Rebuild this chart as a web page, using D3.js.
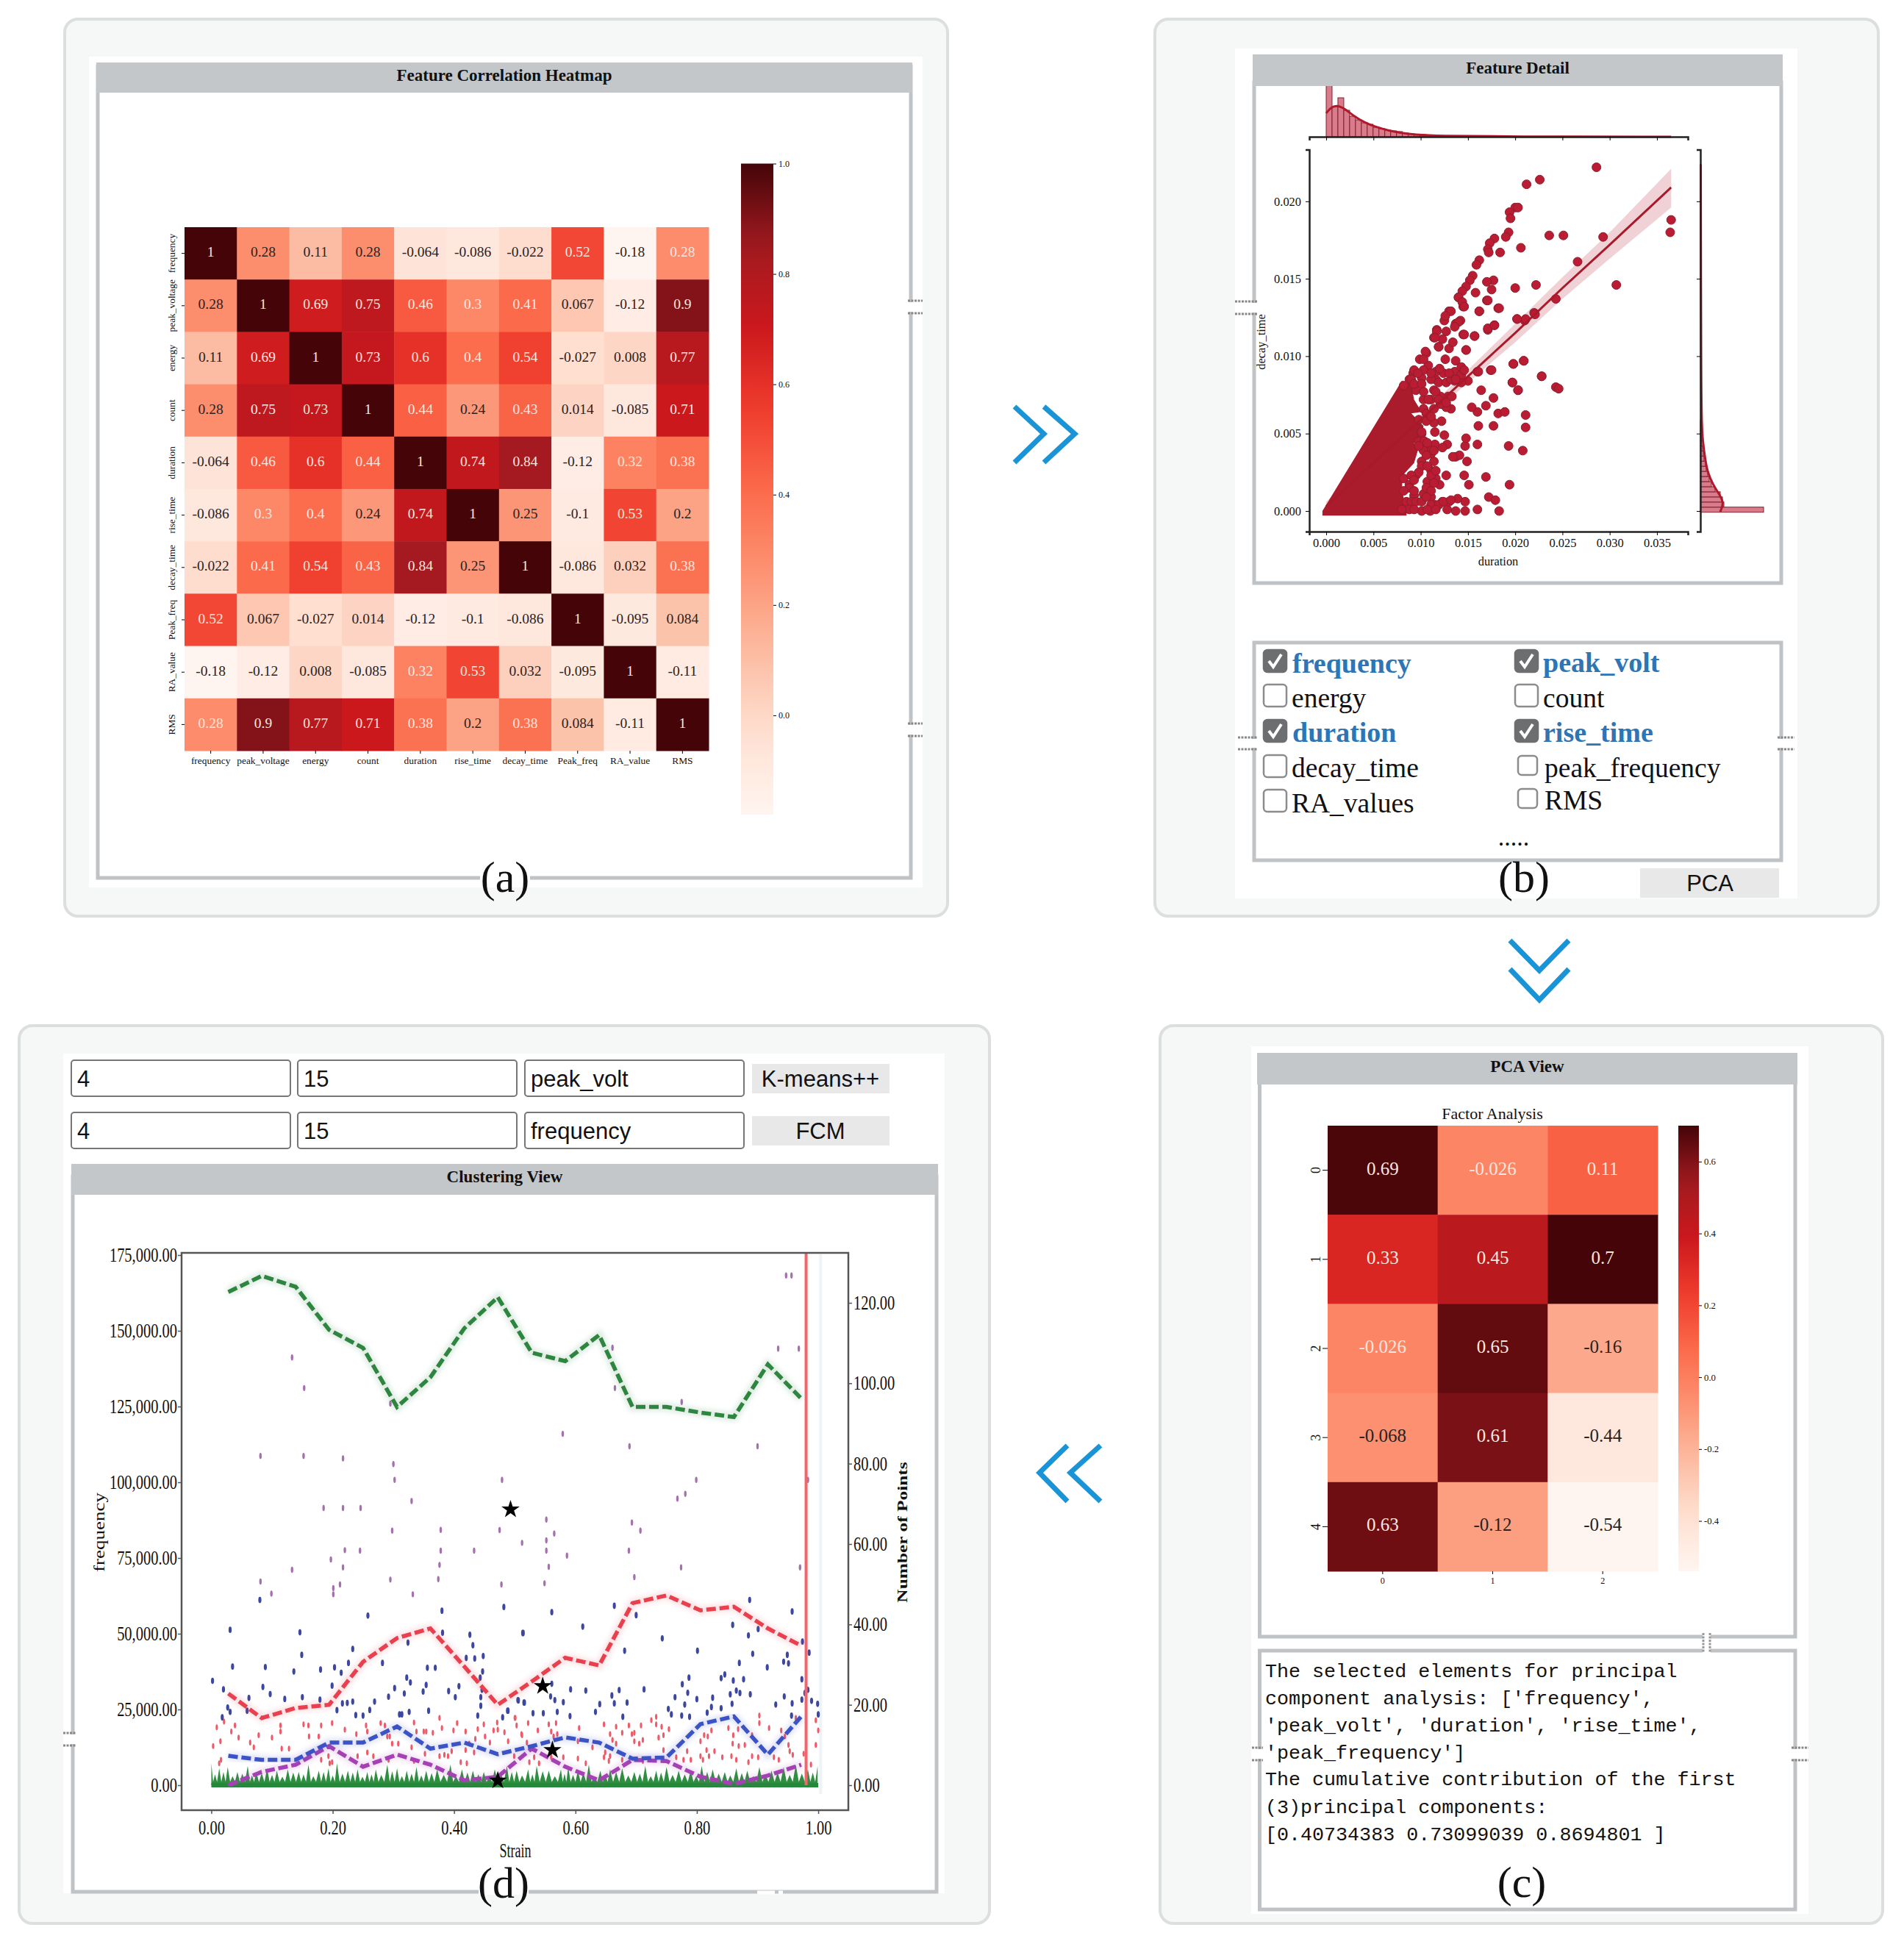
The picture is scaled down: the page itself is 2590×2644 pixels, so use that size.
<!DOCTYPE html>
<html>
<head>
<meta charset="utf-8">
<script src="https://cdn.jsdelivr.net/npm/d3@7"></script>
<style>
  html, body { margin: 0; padding: 0; background: #fff; }
  text { fill: #111; }
  .domain { stroke: #222; }
</style>
</head>
<body>
<div id="chart"></div>
<script>
// ---------------------------------------------------------
// DATA
// ---------------------------------------------------------

// (a) correlation heatmap
var corrFeatures = ["frequency", "peak_voltage", "energy", "count", "duration", "rise_time", "decay_time", "Peak_freq", "RA_value", "RMS"];
var corrValues = [
  [1, 0.28, 0.11, 0.28, -0.064, -0.086, -0.022, 0.52, -0.18, 0.284],
  [0.28, 1, 0.69, 0.75, 0.46, 0.3, 0.41, 0.067, -0.12, 0.9],
  [0.11, 0.69, 1, 0.73, 0.6, 0.4, 0.54, -0.027, 0.008, 0.77],
  [0.28, 0.75, 0.73, 1, 0.44, 0.24, 0.43, 0.014, -0.085, 0.71],
  [-0.064, 0.46, 0.6, 0.44, 1, 0.74, 0.84, -0.12, 0.32, 0.38],
  [-0.086, 0.3, 0.4, 0.24, 0.74, 1, 0.25, -0.1, 0.53, 0.2],
  [-0.022, 0.41, 0.54, 0.43, 0.84, 0.25, 1, -0.086, 0.032, 0.38],
  [0.52, 0.067, -0.027, 0.014, -0.12, -0.1, -0.086, 1, -0.095, 0.084],
  [-0.18, -0.12, 0.008, -0.085, 0.32, 0.53, 0.032, -0.095, 1, -0.11],
  [0.284, 0.9, 0.77, 0.71, 0.38, 0.2, 0.38, 0.084, -0.11, 1]
];
var corrTicks = [0, 0.2, 0.4, 0.6, 0.8, 1];

// (b) scatter of duration against decay_time
var scatterXTicks = [0, 0.005, 0.01, 0.015, 0.02, 0.025, 0.03, 0.035];
var scatterYTicks = [0, 0.005, 0.01, 0.015, 0.02];
var scatterCore = [[-0.0004, 0], [-0.0004, -0.0003], [0.0085, -0.0003], [0.0085, 0.0002], [0.008, 0.0013], [0.0081, 0.0023], [0.0093, 0.0031], [0.0097, 0.0039], [0.0093, 0.0044], [0.0101, 0.0048], [0.0103, 0.0055], [0.009, 0.0063], [0.0101, 0.0064], [0.0093, 0.0072], [0.009, 0.0082], [0.008, 0.0084]];
var scatterPoints = [
  [0.0183, 0], [0.016, 0.0001], [0.0147, 0], [0.0137, 0], [0.0128, 0.0001], [0.011, 0], [0.0101, 0], [0.0172, 0.0009], [0.0179, 0.0007], [0.0147, 0.0006],
  [0.0139, 0.0008], [0.013, 0.0006], [0.0123, 0.0006], [0.0115, 0.0004], [0.0111, 0.0009], [0.0103, 0.0011], [0.0093, 0.001], [0.0194, 0.0017], [0.0151, 0.0017], [0.0146, 0.0023],
  [0.0127, 0.0023], [0.0169, 0.0022], [0.012, 0.0017], [0.0088, 0.0017], [0.0116, 0.0021], [0.0107, 0.0019], [0.0095, 0.0023], [0.0082, 0.0021], [0.0111, 0.0026], [0.0101, 0.0032],
  [0.0114, 0.0032], [0.0111, 0.0037], [0.0149, 0.0032], [0.0137, 0.0035], [0.0141, 0.0036], [0.0134, 0.0035], [0.0193, 0.0042], [0.0208, 0.0039], [0.016, 0.0043], [0.0147, 0.0042],
  [0.0148, 0.0047], [0.0128, 0.0043], [0.0123, 0.0041], [0.0115, 0.0043], [0.0125, 0.0049], [0.0115, 0.0051], [0.0122, 0.0058], [0.0114, 0.0057], [0.0161, 0.0055], [0.0177, 0.0055],
  [0.0211, 0.0054], [0.0211, 0.0062], [0.016, 0.0064], [0.0154, 0.0067], [0.0169, 0.0068], [0.0182, 0.0063], [0.0189, 0.0064], [0.0177, 0.0073], [0.0164, 0.0078], [0.0203, 0.0078],
  [0.0197, 0.0083], [0.0228, 0.0087], [0.0198, 0.0095], [0.0209, 0.0097], [0.0174, 0.0091], [0.016, 0.009], [0.015, 0.0084], [0.0143, 0.0083], [0.0136, 0.0084], [0.0132, 0.0066],
  [0.0127, 0.0067], [0.0129, 0.0074], [0.0121, 0.0074], [0.0114, 0.0078], [0.0116, 0.0085], [0.0124, 0.0089], [0.0136, 0.009], [0.0143, 0.0093], [0.0137, 0.0097], [0.0126, 0.0098],
  [0.0116, 0.009], [0.0106, 0.0102], [0.0099, 0.0098], [0.0108, 0.0094], [0.0092, 0.0089], [0.0101, 0.0086], [0.0119, 0.0106], [0.013, 0.0105], [0.0148, 0.0104], [0.0134, 0.0109],
  [0.0145, 0.0114], [0.0157, 0.0113], [0.0114, 0.0112], [0.0117, 0.0117], [0.0123, 0.0111], [0.0127, 0.0116], [0.0137, 0.0121], [0.0142, 0.0123], [0.0125, 0.0123], [0.013, 0.0129],
  [0.0145, 0.0132], [0.014, 0.0138], [0.0162, 0.0129], [0.0182, 0.0131], [0.017, 0.0136], [0.0171, 0.0117], [0.0178, 0.012], [0.0202, 0.0124], [0.021, 0.0123], [0.022, 0.0128],
  [0.0103, 0.0072], [0.0111, 0.0072], [0.0103, 0.0066], [0.0098, 0.0045], [0.0104, 0.0041], [0.0101, 0.005], [0.0088, 0.0085], [0.0095, 0.0078],
  [0.0286, 0.0222], [0.0226, 0.0214], [0.0212, 0.0211], [0.0365, 0.0188], [0.0364, 0.018], [0.02, 0.0196], [0.0203, 0.0196], [0.0194, 0.0193], [0.0195, 0.0189], [0.0193, 0.018],
  [0.019, 0.0177], [0.0236, 0.0178], [0.0251, 0.0178], [0.0293, 0.0177], [0.0206, 0.017], [0.0184, 0.0167], [0.0178, 0.0176], [0.0173, 0.0173], [0.0171, 0.0169], [0.0172, 0.0167],
  [0.0266, 0.0161], [0.0162, 0.0162], [0.0159, 0.0159], [0.0307, 0.0146], [0.0222, 0.0146], [0.02, 0.0144], [0.0177, 0.0149], [0.017, 0.0148], [0.0175, 0.0143], [0.0155, 0.0152],
  [0.0152, 0.0149], [0.0148, 0.0145], [0.0158, 0.0141], [0.0144, 0.0142], [0.014, 0.0138], [0.0144, 0.0135], [0.0146, 0.0132], [0.0162, 0.0129], [0.0171, 0.0136], [0.0183, 0.0131],
  [0.0243, 0.0137], [0.0202, 0.0124], [0.0211, 0.0124], [0.0221, 0.0127], [0.0132, 0.0129], [0.0126, 0.0126], [0.014, 0.0122], [0.0136, 0.0119], [0.0157, 0.0113], [0.0171, 0.0118],
  [0.0178, 0.012], [0.0117, 0.0116], [0.0115, 0.0112], [0.0146, 0.0114], [0.0148, 0.0104], [0.0119, 0.0106], [0.0105, 0.0103], [0.0198, 0.0095], [0.0209, 0.0097], [0.0228, 0.0087],
  [0.0243, 0.008], [0.0246, 0.0079], [0.0197, 0.0083], [0.0203, 0.0078], [0.0175, 0.0091], [0.0161, 0.009], [0.0093, 0.0091], [0.0103, 0.0098], [0.009, 0.0085], [0.0082, 0.0081],
  [0.0093, 0.0082], [0.0101, 0.0082], [0.0103, 0.0077], [0.0108, 0.0072], [0.0116, 0.0077], [0.0121, 0.0069], [0.0114, 0.0066], [0.0106, 0.0063], [0.0098, 0.0059], [0.0106, 0.0058],
  [0.0111, 0.0061], [0.0119, 0.0072], [0.0127, 0.007], [0.0133, 0.0074], [0.0111, 0.0085], [0.0119, 0.0083], [0.0127, 0.0083], [0.0132, 0.0085], [0.0103, 0.0091], [0.0097, 0.0089],
  [0.0111, 0.0089], [0.012, 0.0092], [0.013, 0.0089], [0.0143, 0.0088], [0.0146, 0.0091], [0.0137, 0.0085], [0.0101, 0.0051], [0.0104, 0.0045], [0.0111, 0.0039], [0.0103, 0.0039],
  [0.0098, 0.0042], [0.0107, 0.0044], [0.0114, 0.0039], [0.0106, 0.0036], [0.0101, 0.0029], [0.0107, 0.0029], [0.0111, 0.0023], [0.0116, 0.0026], [0.0114, 0.0018], [0.0106, 0.0015],
  [0.0111, 0.0013], [0.0098, 0.0025], [0.009, 0.0023], [0.0093, 0.002], [0.0088, 0.0015], [0.0082, 0.0013], [0.0093, 0.0013], [0.0085, 0.0006], [0.009, 0.0006], [0.0095, 0.0006],
  [0.0101, 0.0006], [0.0106, 0.0009], [0.0111, 0.0004], [0.0119, 0.0004], [0.0124, 0.0006], [0.0132, 0.0007], [0.0088, 0.0001], [0.008, 0.0001], [0.0093, 0.0001], [0.0107, 0.0001], [0.0116, 0.0001]
];
var fitX = [0, 0.01, 0.015, 0.02, 0.025, 0.03, 0.0365];
var fitY = [0.0003, 0.0059, 0.0087, 0.0115, 0.0144, 0.0172, 0.0209];
var fitUpper = [0.0006, 0.0062, 0.0091, 0.0121, 0.0151, 0.018, 0.0221];
var fitLower = [0.0001, 0.0056, 0.0083, 0.0109, 0.0137, 0.0163, 0.0196];

var durationHist = [76, 41, 53, 36, 28, 23, 19, 17, 13, 11, 9, 8, 7, 5, 4, 3, 3, 2, 1, 1];
var durationKdeX = [0, 0.0005, 0.0011, 0.0019, 0.0028, 0.0041, 0.0051, 0.0067, 0.008, 0.0093, 0.0119, 0.0191, 0.0365];
var durationKde = [32, 40, 43, 39, 29, 19, 14, 8, 5, 3, 1, 0.3, 0];
var decayHist = [86, 32, 30, 27, 20, 15, 12, 10, 8, 7, 5, 4, 3, 2, 2, 1, 1, 1];
var decayKdeY = [-0.00005, 0.0005, 0.001, 0.0017, 0.0025, 0.0032, 0.0046, 0.0056, 0.008, 0.0224];
var decayKde = [27, 32, 27, 17, 10, 7, 3, 2, 1, 0.5];

// (b) feature picker
var leftFeatures = ["frequency", "energy", "duration", "decay_time", "RA_values"];
var leftChecked = [true, false, true, false, false];
var leftBaselines = [915, 962, 1009, 1057, 1105];
var leftBoxTops = [884, 931, 979, 1027, 1074];
var rightFeatures = ["peak_volt", "count", "rise_time", "peak_frequency", "RMS"];
var rightChecked = [true, false, true, false, false];
var rightBaselines = [914, 962, 1009, 1057, 1101];
var rightBoxTops = [884, 931, 979, 1028, 1073];

// (c) factor analysis heatmap and the text under it
var factorRows = ["0", "1", "2", "3", "4"];
var factorCols = ["0", "1", "2"];
var factorValues = [
  [0.69, -0.026, 0.11],
  [0.33, 0.45, 0.7],
  [-0.026, 0.65, -0.16],
  [-0.068, 0.61, -0.44],
  [0.63, -0.12, -0.54]
];
var factorTicks = [-0.4, -0.2, 0, 0.2, 0.4, 0.6];
var pcaLines = [
  "The selected elements for principal",
  "component analysis: ['frequency',",
  "'peak_volt', 'duration', 'rise_time',",
  "'peak_frequency']",
  "The cumulative contribution of the first",
  "(3)principal components:",
  "[0.40734383 0.73099039 0.8694801 ]"
];
var pcaBaselines = [2281, 2318, 2355, 2392, 2428, 2466, 2503];

// (d) clustering view
var strainTicks = [0, 0.2, 0.4, 0.6, 0.8, 1];
var freqTicks = [0, 25000, 50000, 75000, 100000, 125000, 150000, 175000];
var countTicks = [0, 20, 40, 60, 80, 100, 120];
var binCentres = [0.028, 0.083, 0.139, 0.194, 0.25, 0.306, 0.361, 0.417, 0.472, 0.528, 0.583, 0.639, 0.694, 0.75, 0.806, 0.861, 0.917, 0.972];
var greenCounts = [122.7, 126.7, 124, 113.3, 108.8, 94.1, 101.5, 113.7, 121.4, 107.6, 105.5, 112, 94.1, 94.1, 92.7, 91.6, 104.7, 96.2];
var redCounts = [22.8, 16.7, 19.2, 20, 30.7, 36.6, 39, 29.5, 20, 25.8, 31.7, 29.8, 45.3, 47.2, 43.5, 44.4, 39, 34.7];
var blueCounts = [7.3, 6.3, 6.3, 10.6, 10.6, 14.6, 9.1, 10.6, 7.7, 9.7, 11.9, 10.6, 6.6, 6.9, 15.2, 17.1, 7.6, 17.1];
var purpleCounts = [0, 3.3, 5.1, 9.7, 4.6, 7.6, 5.1, 1.2, 2.1, 9.1, 4.6, 1.2, 6.3, 6, 2.1, 0.3, 2.4, 5.1];

var blueDots = [
  [0.002, 34460], [0.031, 51290], [0.02, 31630], [0.035, 39160], [0.08, 61160], [0.089, 38990], [0.085, 32440], [0.097, 30090], [0.062, 28800], [0.121, 28480],
  [0.146, 50480], [0.149, 43040], [0.136, 37540], [0.15, 29040], [0.179, 28230], [0.18, 38180], [0.203, 38910], [0.214, 37130], [0.226, 40370], [0.233, 44980],
  [0.199, 32840], [0.258, 55980], [0.282, 40370], [0.324, 47080], [0.356, 38750], [0.369, 38750], [0.322, 35510], [0.328, 33900], [0.302, 32040], [0.318, 30260],
  [0.292, 29200], [0.269, 27590], [0.233, 27590], [0.224, 27180], [0.216, 27020], [0.207, 24760], [0.261, 24840], [0.238, 23140], [0.25, 22980], [0.31, 23380],
  [0.314, 23380], [0.326, 24190], [0.358, 24590], [0.354, 33090], [0.349, 30900], [0.391, 31070], [0.408, 32680], [0.402, 29040], [0.38, 57600], [0.381, 50320],
  [0.426, 49670], [0.431, 46190], [0.42, 41990], [0.434, 41830], [0.448, 42630], [0.447, 37540], [0.443, 35510], [0.446, 31470], [0.444, 29040], [0.444, 26210],
  [0.439, 22980], [0.482, 58820], [0.513, 50240], [0.505, 28070], [0.515, 27260], [0.488, 24590], [0.48, 22410], [0.027, 25650], [0.031, 24190], [0.018, 22410], [0.059, 24590],
  [0.664, 59220], [0.561, 57120], [0.7, 56140], [0.612, 52340], [0.514, 50240], [0.681, 44410], [0.743, 48460], [0.801, 44410], [0.887, 61160], [0.957, 57360],
  [0.859, 52910], [0.901, 51530], [0.885, 49430], [0.974, 47410], [0.985, 43770], [0.892, 43360], [0.87, 40370], [0.916, 38910], [0.943, 40770], [0.951, 40210],
  [0.949, 43040], [0.973, 34950], [0.787, 35510], [0.776, 33330], [0.846, 36570], [0.84, 35350], [0.86, 34540], [0.877, 34950], [0.561, 33490], [0.592, 31630],
  [0.617, 31230], [0.672, 31390], [0.713, 31630], [0.785, 30500], [0.764, 29040], [0.8, 28400], [0.826, 28880], [0.855, 30010], [0.865, 31230], [0.871, 30420],
  [0.888, 30010], [0.944, 29290], [0.983, 31470], [0.978, 30420], [0.973, 28230], [0.989, 27830], [0.999, 26860], [0.66, 29610], [0.64, 26780], [0.664, 27020],
  [0.685, 27260], [0.506, 28000], [0.516, 27260], [0.559, 29290], [0.566, 28070], [0.58, 27420], [0.489, 24590], [0.53, 23780], [0.547, 23780], [0.57, 24190],
  [0.591, 22810], [0.633, 24190], [0.678, 22570], [0.753, 25160], [0.758, 23380], [0.775, 22980], [0.788, 22570], [0.78, 26620], [0.824, 25810], [0.817, 23950],
  [0.84, 25400], [0.858, 26860], [0.93, 26620], [0.957, 27020], [1, 23380], [0.956, 22980]
];
var purpleDots = [
  [0.298, 84060], [0.378, 84300], [0.475, 84220], [0.512, 80010], [0.22, 77590], [0.245, 77420], [0.378, 77420], [0.433, 77420], [0.197, 74510], [0.217, 71920],
  [0.133, 71110], [0.376, 72730], [0.374, 68040], [0.295, 67880], [0.081, 67230], [0.212, 66260], [0.478, 66260], [0.099, 63260], [0.201, 65040], [0.201, 63020],
  [0.332, 63020], [0.552, 87700], [0.693, 86720], [0.707, 84060], [0.565, 83080], [0.552, 80820], [0.552, 77420], [0.688, 77420], [0.586, 75800], [0.556, 72080],
  [0.774, 71920], [0.97, 71920], [0.697, 68680], [0.549, 66660], [0.947, 168260], [0.956, 168260], [0.133, 141200], [0.153, 131100], [0.661, 144400], [0.934, 144100],
  [0.968, 144100], [0.665, 131100], [0.775, 126500], [0.295, 126000], [0.579, 116000], [0.689, 111900], [0.9, 111900], [0.081, 108700], [0.152, 108700], [0.217, 107900],
  [0.3, 106000], [0.302, 100800], [0.479, 100800], [0.799, 100800], [0.781, 96200], [0.768, 94600], [0.983, 100800], [0.33, 93800], [0.185, 91500], [0.217, 91500], [0.246, 91500]
];
var redDots = [
  [0.009, 19100], [0.015, 14500], [0.003, 12900], [0.021, 21000], [0.033, 17700], [0.039, 19700], [0.045, 15700], [0.016, 8400], [0.013, 7200], [0.064, 14100],
  [0.07, 12500], [0.078, 16500], [0.1, 15700], [0.114, 19700], [0.114, 17700], [0.116, 12100], [0.128, 12100], [0.152, 20100], [0.16, 19700], [0.161, 16100],
  [0.177, 16100], [0.181, 19700], [0.199, 20500], [0.22, 18300], [0.239, 16900], [0.255, 19700], [0.257, 17700], [0.199, 7600], [0.181, 8400], [0.193, 9600],
  [0.195, 7200], [0.241, 9600], [0.257, 10800], [0.267, 9600], [0.279, 20500], [0.29, 16100], [0.286, 19700], [0.308, 13700], [0.294, 16100], [0.334, 20700],
  [0.338, 17700], [0.354, 17700], [0.365, 17300], [0.376, 22200], [0.38, 18900], [0.399, 18100], [0.405, 20500], [0.419, 17700], [0.435, 15300], [0.439, 18500],
  [0.449, 20100], [0.465, 18100], [0.472, 18300], [0.471, 20700], [0.483, 17500], [0.5, 22200], [0.503, 19700], [0.511, 16900], [0.522, 20500], [0.451, 16100],
  [0.459, 14100], [0.33, 12500], [0.352, 10400], [0.376, 9600], [0.39, 9600], [0.411, 7600], [0.421, 7200], [0.384, 10000], [0.292, 8400], [0.334, 8000],
  [0.396, 11200], [0.433, 10800], [0.489, 14500], [0.52, 14100], [0.425, 13700], [0.35, 17700], [0.298, 13700], [0.419, 11600],
  [0.538, 18100], [0.556, 20100], [0.568, 20500], [0.512, 16500], [0.56, 17700], [0.57, 16900], [0.564, 16100], [0.606, 18900], [0.647, 20100], [0.667, 19300],
  [0.688, 19700], [0.708, 19700], [0.725, 21500], [0.733, 22600], [0.733, 20100], [0.742, 19300], [0.754, 18500], [0.657, 16900], [0.661, 14900], [0.677, 17300],
  [0.667, 13700], [0.693, 16900], [0.697, 14500], [0.705, 13700], [0.711, 14900], [0.697, 17300], [0.737, 15700], [0.745, 16500], [0.604, 14500], [0.628, 12500],
  [0.649, 10800], [0.657, 9600], [0.647, 9200], [0.655, 8000], [0.677, 8400], [0.711, 8000], [0.745, 11600], [0.766, 9200], [0.784, 11200], [0.778, 8400],
  [0.79, 8400], [0.806, 14500], [0.812, 16500], [0.824, 18100], [0.818, 16100], [0.806, 9600], [0.81, 8400], [0.82, 9600], [0.816, 11600], [0.829, 11200],
  [0.842, 9200], [0.852, 18900], [0.86, 16500], [0.868, 18500], [0.859, 13700], [0.869, 12900], [0.879, 13300], [0.857, 9600], [0.865, 8400], [0.891, 9600],
  [0.885, 7600], [0.901, 9200], [0.919, 18900], [0.939, 18100], [0.945, 16100], [0.951, 13300], [0.953, 11200], [0.958, 10000], [0.935, 8400], [0.927, 9200],
  [0.963, 22200], [0.976, 10400], [0.996, 13300], [1, 18100], [0.996, 21400], [0.988, 6800], [0.903, 22970], [0.903, 20500], [0.891, 16500], [0.501, 22200],
  [0.532, 9200], [0.524, 7600], [0.54, 7200], [0.499, 9600], [0.56, 9200], [0.58, 9200], [0.604, 8800], [0.617, 7200]
];
var greenPeakStrain = [0, 0.013, 0.027, 0.043, 0.06, 0.074, 0.092, 0.108, 0.126, 0.144, 0.16, 0.177, 0.193, 0.207, 0.225, 0.241, 0.257, 0.271, 0.29, 0.306, 0.322, 0.338, 0.354, 0.372, 0.394, 0.413, 0.431, 0.449, 0.467, 0.487, 0.503, 0.522, 0.536, 0.556, 0.576, 0.588, 0.604, 0.622, 0.641, 0.657, 0.677, 0.697, 0.715, 0.733, 0.75, 0.77, 0.79, 0.808, 0.826, 0.846, 0.865, 0.883, 0.903, 0.923, 0.943, 0.963, 0.983, 0.999];
var greenPeakFreq = [7200, 5600, 6000, 4400, 6400, 4400, 5600, 4800, 5200, 4400, 6800, 4800, 5600, 7200, 4800, 5200, 4400, 5200, 6800, 5600, 4800, 6000, 4800, 5200, 6800, 5200, 4800, 4400, 5200, 6400, 4800, 5200, 6400, 4800, 5200, 6000, 4800, 6800, 4800, 5200, 5600, 4400, 6400, 4800, 6000, 4800, 4800, 6400, 5200, 4400, 5600, 4800, 6000, 4800, 6000, 6800, 5200, 6400];
var greenMidStrain = [0.006, 0.02, 0.035, 0.051, 0.067, 0.083, 0.1, 0.117, 0.135, 0.152, 0.168, 0.185, 0.2, 0.216, 0.233, 0.249, 0.264, 0.28, 0.298, 0.314, 0.33, 0.346, 0.363, 0.383, 0.403, 0.422, 0.44, 0.458, 0.477, 0.495, 0.512, 0.529, 0.546, 0.566, 0.582, 0.596, 0.613, 0.631, 0.649, 0.667, 0.687, 0.706, 0.724, 0.741, 0.76, 0.78, 0.799, 0.817, 0.836, 0.855, 0.874, 0.893, 0.913, 0.933, 0.953, 0.973, 0.991];
var greenMidFreq = [3600, 4400, 3000, 3800, 3200, 4000, 3400, 2800, 4200, 3600, 3000, 4400, 3200, 3800, 4200, 2800, 3600, 3400, 4600, 3000, 3800, 3200, 4000, 3400, 3000, 4200, 3600, 2800, 3800, 4400, 3200, 3600, 4600, 3000, 3800, 3400, 4200, 3000, 3600, 4400, 3200, 3800, 3000, 4200, 3400, 3600, 3000, 4400, 3800, 3200, 4000, 3000, 3600, 4200, 3400, 3800, 4200];
var centroidStrain = [0.493, 0.546, 0.562, 0.472];
var centroidFreq = [91000, 32700, 11600, 1500];
var cutoffStrain = 0.98;

var inputRows = [["4", "15", "peak_volt"], ["4", "15", "frequency"]];
var methodNames = ["K-means++", "FCM"];

// ---------------------------------------------------------
// SET UP THE PAGE
// ---------------------------------------------------------

var svgWidth = 2590;
var svgHeight = 2644;

var serif = "Liberation Serif";
var sans = "Liberation Sans";

var svg = d3.select("#chart")
  .append("svg")
  .attr("width", svgWidth)
  .attr("height", svgHeight)
  .attr("font-family", serif)
  .style("display", "block");

var defs = svg.append("defs");
defs.append("filter").attr("id", "soft")
  .append("feGaussianBlur").attr("stdDeviation", 0.7);
defs.append("filter").attr("id", "glow")
  .attr("x", "-5%").attr("y", "-5%").attr("width", "110%").attr("height", "110%")
  .append("feGaussianBlur").attr("stdDeviation", 3);

var frameColor = "#bfc3c6";
var barColor = "#c4c7c9";

// same ramp as the colormap in the picture, a bit darker at the top
var redRamp = d3.piecewise(d3.interpolateRgb, ["#fff5f0", "#fee0d2", "#fcbba1", "#fc9272", "#fb6a4a", "#ef3b2c", "#cb181d", "#a01a20", "#450508"]);

var minusFix = function(s) { return s.replace("\u2212", "-"); };
var cellFormat = d3.format(".2~g");

function panel(x0, y0, x1, y1, wx0, wy0, wx1, wy1) {
  svg.append("rect")
    .attr("x", x0).attr("y", y0)
    .attr("width", x1 - x0).attr("height", y1 - y0)
    .attr("rx", 18)
    .attr("fill", "#f6f7f7")
    .attr("stroke", "#dddfdf")
    .attr("stroke-width", 4);
  svg.append("rect")
    .attr("x", wx0).attr("y", wy0)
    .attr("width", wx1 - wx0).attr("height", wy1 - wy0)
    .attr("fill", "#fff");
}

function frame(x0, y0, x1, y1) {
  svg.append("rect")
    .attr("x", x0).attr("y", y0)
    .attr("width", x1 - x0).attr("height", y1 - y0)
    .attr("fill", "none")
    .attr("stroke", frameColor)
    .attr("stroke-width", 5);
}

function titleBar(x0, y0, x1, y1, label) {
  svg.append("rect")
    .attr("x", x0).attr("y", y0)
    .attr("width", x1 - x0).attr("height", y1 - y0)
    .attr("fill", barColor);
  svg.append("text")
    .attr("x", (x0 + x1) / 2).attr("y", (y0 + y1) / 2 + 4)
    .attr("text-anchor", "middle")
    .attr("font-size", 23)
    .attr("font-weight", "bold")
    .text(label);
}

function handle(x0, x1, y0, y1) {
  svg.append("rect")
    .attr("x", x0).attr("y", y0 + 2)
    .attr("width", x1 - x0).attr("height", y1 - y0 - 4)
    .attr("fill", "#fff");
  [y0, y1].forEach(function(y) {
    svg.append("line")
      .attr("x1", x0).attr("x2", x1)
      .attr("y1", y).attr("y2", y)
      .attr("stroke", "#888")
      .attr("stroke-width", 3)
      .attr("stroke-dasharray", "3 1.5");
  });
}

function panelLabel(x, y, label, gapY) {
  if (gapY) {
    svg.append("rect")
      .attr("x", x - 34).attr("y", gapY - 4)
      .attr("width", 68).attr("height", 8)
      .attr("fill", "#fff");
  }
  svg.append("text")
    .attr("x", x).attr("y", y)
    .attr("text-anchor", "middle")
    .attr("font-size", 60)
    .text(label);
}

function chevrons(points) {
  var line = d3.line();
  points.forEach(function(p) {
    svg.append("path")
      .attr("d", line(p))
      .attr("fill", "none")
      .attr("stroke", "#1b94d7")
      .attr("stroke-width", 7);
  });
}

// draws one annotated heatmap with its colorbar
function heatmap(opts) {
  var x = d3.scaleBand().domain(opts.cols).range(opts.xRange);
  var y = d3.scaleBand().domain(opts.rows).range(opts.yRange);
  var t = d3.scaleLinear().domain(opts.domain).range([0, 1]);

  var g = svg.append("g");
  opts.values.forEach(function(row, i) {
    row.forEach(function(v, j) {
      g.append("rect")
        .attr("x", x(opts.cols[j]))
        .attr("y", y(opts.rows[i]))
        .attr("width", x.bandwidth() + 0.5)
        .attr("height", y.bandwidth() + 0.5)
        .attr("fill", redRamp(t(v)));
      g.append("text")
        .attr("x", x(opts.cols[j]) + x.bandwidth() / 2)
        .attr("y", y(opts.rows[i]) + y.bandwidth() / 2)
        .attr("dy", "0.24em")
        .attr("text-anchor", "middle")
        .attr("font-size", opts.cellFont)
        .style("fill", t(v) > 0.39 ? "#fbe6df" : "#2b2220")
        .text(minusFix(cellFormat(v)));
    });
  });

  var bottomAxis = d3.axisBottom(x).tickSize(4).tickPadding(opts.xPad);
  var xAxisG = svg.append("g")
    .attr("transform", "translate(0," + opts.yRange[1] + ")")
    .call(bottomAxis);
  xAxisG.select(".domain").remove();
  xAxisG.selectAll("text").attr("font-size", opts.xFont).attr("font-family", serif);

  var leftAxis = d3.axisLeft(y).tickSize(opts.yTick).tickPadding(opts.yPad);
  var yAxisG = svg.append("g")
    .attr("transform", "translate(" + opts.xRange[0] + ",0)")
    .call(leftAxis);
  yAxisG.select(".domain").remove();
  yAxisG.selectAll("text")
    .attr("font-size", opts.yFont)
    .attr("font-family", serif)
    .attr("text-anchor", "middle")
    .attr("dy", 0)
    .attr("transform", function() {
      return "translate(" + (-opts.yTick - opts.yPad - opts.yFont * 0.3) + ",0) rotate(-90)";
    })
    .attr("x", 0).attr("y", opts.yFont * 0.3);

  // colorbar
  var gradId = opts.id;
  var grad = defs.append("linearGradient").attr("id", gradId)
    .attr("x1", 0).attr("x2", 0).attr("y1", 1).attr("y2", 0);
  d3.range(0, 1.001, 0.05).forEach(function(s) {
    grad.append("stop").attr("offset", s).attr("stop-color", redRamp(s));
  });
  var barScale = d3.scaleLinear().domain(opts.domain).range(opts.barY);
  svg.append("rect")
    .attr("x", opts.barX[0]).attr("y", opts.barY[1])
    .attr("width", opts.barX[1] - opts.barX[0])
    .attr("height", opts.barY[0] - opts.barY[1])
    .attr("fill", "url(#" + gradId + ")");
  var barAxis = d3.axisRight(barScale)
    .tickValues(opts.ticks)
    .tickSize(4)
    .tickPadding(3)
    .tickFormat(function(d) { return minusFix(d3.format(".1f")(d)); });
  var barG = svg.append("g")
    .attr("transform", "translate(" + opts.barX[1] + ",0)")
    .call(barAxis);
  barG.select(".domain").remove();
  barG.selectAll("text").attr("font-size", opts.barFont).attr("font-family", serif);
}

// ---------------------------------------------------------
// PANEL BACKGROUNDS
// ---------------------------------------------------------

panel(88, 26, 1289, 1246, 121, 77, 1255, 1207);
panel(1571, 26, 2555, 1246, 1680, 66, 2445, 1222);
panel(1578, 1395, 2561, 2616, 1702, 1423, 2460, 2603);
panel(26, 1395, 1346, 2616, 86, 1433, 1285, 2575);

// ---------------------------------------------------------
// (a) FEATURE CORRELATION HEATMAP
// ---------------------------------------------------------

frame(133, 90, 1239, 1194);
titleBar(131, 85, 1241, 126, "Feature Correlation Heatmap");

heatmap({
  id: "corrBar",
  rows: corrFeatures, cols: corrFeatures, values: corrValues,
  domain: [-0.18, 1],
  xRange: [251, 964], yRange: [309, 1021],
  cellFont: 19.5, xFont: 13.4, xPad: 4, yFont: 13.4, yTick: 4, yPad: 9,
  barX: [1008, 1052], barY: [1108, 222.5], ticks: corrTicks, barFont: 12
});

handle(1235, 1255, 409, 426);
handle(1235, 1255, 984, 1001);
panelLabel(687, 1213, "(a)", 1194);

// ---------------------------------------------------------
// (b) FEATURE DETAIL
// ---------------------------------------------------------

var xDuration = d3.scaleLinear().domain([-0.00179, 0.03827]).range([1781, 2296]);
var yDecay = d3.scaleLinear().domain([-0.00133, 0.02334]).range([723, 203.5]);
var topDensity = d3.scaleLinear().domain([0, 76]).range([186, 110]);
var rightDensity = d3.scaleLinear().domain([0, 86]).range([2313, 2399]);

// marginal histogram on top
var durationBin = 0.00062;
svg.append("g").selectAll("rect")
  .data(durationHist)
  .enter()
  .append("rect")
  .attr("x", (d, i) => xDuration(i * durationBin))
  .attr("y", d => topDensity(d))
  .attr("width", xDuration(durationBin) - xDuration(0))
  .attr("height", d => topDensity(0) - topDensity(d))
  .attr("fill", "#d97b8a")
  .attr("stroke", "#7d2430")
  .attr("stroke-width", 1);

svg.append("path")
  .attr("d", d3.line()
    .x((d, i) => xDuration(durationKdeX[i]))
    .y(d => topDensity(d))
    .curve(d3.curveBasis)(durationKde))
  .attr("fill", "none")
  .attr("stroke", "#b2182b")
  .attr("stroke-width", 3);

var topAxis = d3.axisBottom(xDuration).tickValues(scatterXTicks).tickSize(5).tickFormat("");
svg.append("g").attr("transform", "translate(0,186)").call(topAxis)
  .call(g => g.select(".domain").attr("stroke", "#333").attr("stroke-width", 2.5));

// marginal histogram on the right
var decayBin = 0.00033;
svg.append("g").selectAll("rect")
  .data(decayHist)
  .enter()
  .append("rect")
  .attr("x", rightDensity(0))
  .attr("y", (d, i) => yDecay(-0.00008 + (i + 1) * decayBin))
  .attr("width", d => rightDensity(d) - rightDensity(0))
  .attr("height", yDecay(0) - yDecay(decayBin))
  .attr("fill", "#d97b8a")
  .attr("stroke", "#7d2430")
  .attr("stroke-width", 1);

svg.append("path")
  .attr("d", d3.line()
    .x(d => rightDensity(d))
    .y((d, i) => yDecay(decayKdeY[i]))
    .curve(d3.curveBasis)(decayKde))
  .attr("fill", "none")
  .attr("stroke", "#b2182b")
  .attr("stroke-width", 3);

var rightAxis = d3.axisLeft(yDecay).tickValues(scatterYTicks).tickSize(5).tickFormat("");
svg.append("g").attr("transform", "translate(2313,0)").call(rightAxis)
  .call(g => g.select(".domain").attr("stroke", "#333").attr("stroke-width", 2.5));

// regression band goes under the points, the fit line over them
svg.append("path")
  .attr("d", d3.area()
    .x((d, i) => xDuration(fitX[i]))
    .y0(d => yDecay(d))
    .y1((d, i) => yDecay(fitUpper[i]))(fitLower))
  .attr("fill", "#b2182b")
  .attr("fill-opacity", 0.2);

svg.append("path")
  .attr("d", d3.line()
    .x(d => xDuration(d[0]))
    .y(d => yDecay(d[1]))(scatterCore) + "Z")
  .attr("fill", "#aa1b2b");

svg.append("g").selectAll("circle")
  .data(scatterPoints)
  .enter()
  .append("circle")
  .attr("cx", d => xDuration(d[0]))
  .attr("cy", d => yDecay(d[1]))
  .attr("r", 6)
  .attr("fill", "#b91c33")
  .attr("stroke", "#8f1d2b")
  .attr("stroke-width", 1);

svg.append("path")
  .attr("d", d3.line()
    .x((d, i) => xDuration(fitX[i]))
    .y(d => yDecay(d))(fitY))
  .attr("fill", "none")
  .attr("stroke", "#a81a2a")
  .attr("stroke-width", 3);

var scatterBottom = d3.axisBottom(xDuration).tickValues(scatterXTicks).tickSize(5).tickPadding(4).tickFormat(d3.format(".3f"));
var sbG = svg.append("g").attr("transform", "translate(0,723)").call(scatterBottom);
var scatterLeft = d3.axisLeft(yDecay).tickValues(scatterYTicks).tickSize(5).tickPadding(1).tickFormat(d3.format(".3f"));
var slG = svg.append("g").attr("transform", "translate(1781,0)").call(scatterLeft);
[sbG, slG].forEach(function(g) {
  g.select(".domain").attr("stroke-width", 2.5);
  g.selectAll("text").attr("font-size", 16.4).attr("font-family", serif);
});
slG.selectAll("text").attr("x", -11);

svg.append("text")
  .attr("x", 2038).attr("y", 769)
  .attr("text-anchor", "middle")
  .attr("font-size", 16.4)
  .text("duration");
svg.append("text")
  .attr("transform", "translate(1721,465) rotate(-90)")
  .attr("text-anchor", "middle")
  .attr("font-size", 16.4)
  .text("decay_time");

frame(1706, 112, 2423, 793);
titleBar(1704, 74, 2425, 117, "Feature Detail");
handle(1680, 1710, 410, 427);

// feature picker
frame(1706, 874, 2423, 1170);

function pickerColumn(names, checked, baselines, tops, boxX, boxWidths, textX) {
  names.forEach(function(name, i) {
    var w = boxWidths[i];
    var h = checked[i] ? 30 : (w < 30 ? 26 : 30);
    svg.append("rect")
      .attr("x", boxX[i]).attr("y", tops[i])
      .attr("width", w).attr("height", h)
      .attr("rx", 5)
      .attr("fill", checked[i] ? "#6d6e70" : "#fff")
      .attr("stroke", checked[i] ? "#6d6e70" : "#8c8c8c")
      .attr("stroke-width", 2.5);
    if (checked[i]) {
      svg.append("path")
        .attr("d", d3.line()([[boxX[i] + 7, tops[i] + 15], [boxX[i] + 13, tops[i] + 23], [boxX[i] + 24, tops[i] + 6]]))
        .attr("fill", "none")
        .attr("stroke", "#fff")
        .attr("stroke-width", 4);
    }
    svg.append("text")
      .attr("x", textX[i]).attr("y", baselines[i])
      .attr("font-size", checked[i] ? 38 : 37.5)
      .attr("font-weight", checked[i] ? "bold" : "normal")
      .style("fill", checked[i] ? "#2e75b6" : "#111")
      .text(name);
  });
}

pickerColumn(leftFeatures, leftChecked, leftBaselines, leftBoxTops,
  [1719, 1719, 1719, 1719, 1719], [31, 31, 31, 31, 31], [1758, 1757, 1758, 1757, 1757]);
pickerColumn(rightFeatures, rightChecked, rightBaselines, rightBoxTops,
  [2061, 2061, 2061, 2065, 2065], [31, 31, 31, 26, 26], [2099, 2099, 2099, 2101, 2101]);

svg.append("text")
  .attr("x", 2059).attr("y", 1150)
  .attr("text-anchor", "middle")
  .attr("font-size", 34)
  .text(".....");

handle(1684, 1710, 1003, 1019);
handle(2418, 2441, 1003, 1019);

svg.append("rect")
  .attr("x", 2231).attr("y", 1181)
  .attr("width", 189).attr("height", 40)
  .attr("fill", "#e8e8e8");
svg.append("text")
  .attr("x", 2326).attr("y", 1212)
  .attr("text-anchor", "middle")
  .attr("font-size", 31)
  .attr("font-family", sans)
  .text("PCA");

panelLabel(2073, 1213, "(b)");

// ---------------------------------------------------------
// (c) PCA VIEW
// ---------------------------------------------------------

frame(1713.5, 1440, 2442, 2226);
titleBar(1710, 1432, 2445, 1475, "PCA View");

svg.append("text")
  .attr("x", 2030).attr("y", 1522)
  .attr("text-anchor", "middle")
  .attr("font-size", 22)
  .text("Factor Analysis");

heatmap({
  id: "factorBar",
  rows: factorRows, cols: factorCols, values: factorValues,
  domain: [-0.54, 0.7],
  xRange: [1806, 2255], yRange: [1531, 2137],
  cellFont: 25, xFont: 12, xPad: 4, yFont: 18, yTick: 7, yPad: 3,
  barX: [2283, 2311], barY: [2137, 1531], ticks: factorTicks, barFont: 12.8
});

frame(1713.5, 2245, 2442, 2597);
svg.append("g").selectAll("text")
  .data(pcaLines)
  .enter()
  .append("text")
  .attr("x", 1721)
  .attr("y", (d, i) => pcaBaselines[i])
  .attr("font-family", "Liberation Mono")
  .attr("font-size", 26.7)
  .attr("xml:space", "preserve")
  .text(d => d);

svg.append("rect").attr("x", 2316).attr("y", 2220).attr("width", 11).attr("height", 29).attr("fill", "#fff");
[2317, 2326].forEach(function(x) {
  svg.append("line")
    .attr("x1", x).attr("x2", x)
    .attr("y1", 2221).attr("y2", 2248)
    .attr("stroke", "#999")
    .attr("stroke-width", 3)
    .attr("stroke-dasharray", "3 1.5");
});

handle(1703, 1718, 2377, 2394);
handle(2437, 2460, 2377, 2394);
panelLabel(2070, 2580, "(c)");

// ---------------------------------------------------------
// (d) CLUSTERING VIEW
// ---------------------------------------------------------

// parameter boxes
var inputX = [97, 405, 714];
inputRows.forEach(function(row, r) {
  var top = [1442, 1513][r];
  row.forEach(function(label, c) {
    svg.append("rect")
      .attr("x", inputX[c]).attr("y", top)
      .attr("width", 298).attr("height", 49)
      .attr("rx", 4)
      .attr("fill", "#fff")
      .attr("stroke", "#767676")
      .attr("stroke-width", 2);
    svg.append("text")
      .attr("x", inputX[c] + 8).attr("y", top + 36)
      .attr("font-family", sans)
      .attr("font-size", 31)
      .text(label);
  });
  svg.append("rect")
    .attr("x", 1023).attr("y", top + 5)
    .attr("width", 187).attr("height", 40)
    .attr("fill", "#e8e8e8");
  svg.append("text")
    .attr("x", 1116).attr("y", top + 36)
    .attr("text-anchor", "middle")
    .attr("font-family", sans)
    .attr("font-size", 31)
    .text(methodNames[r]);
});

frame(99, 1600, 1274, 2573);
titleBar(97, 1583, 1276, 1625, "Clustering View");

var xStrain = d3.scaleLinear().domain([-0.0490, 1.0496]).range([247, 1154]);
var yFreq = d3.scaleLinear().domain([-8250, 175000]).range([2462, 1707]);
var yCount = d3.scaleLinear().domain([0, 120]).range([2428, 1772]);

// faint grid line at strain 1.00
svg.append("line")
  .attr("x1", xStrain(1.004)).attr("x2", xStrain(1.004))
  .attr("y1", 1706).attr("y2", 2440)
  .attr("stroke", "#eef3f6")
  .attr("stroke-width", 4);

// green cluster sits on the base as a spiky band
var greenTips = d3.zip(greenPeakStrain.concat(greenMidStrain), greenPeakFreq.concat(greenMidFreq))
  .sort((a, b) => a[0] - b[0]);
var greenBand = [];
greenTips.forEach(function(tip, i) {
  greenBand.push(tip);
  if (i < greenTips.length - 1) {
    greenBand.push([(tip[0] + greenTips[i + 1][0]) / 2, 1100]);
  }
});
svg.append("path")
  .attr("d", d3.area()
    .x(d => xStrain(d[0]))
    .y0(yFreq(0))
    .y1(d => yFreq(d[1]))(greenBand))
  .attr("fill", "#2f8f3f")
  .attr("filter", "url(#soft)");
svg.append("line")
  .attr("x1", xStrain(0)).attr("x2", xStrain(1))
  .attr("y1", yFreq(0)).attr("y2", yFreq(0))
  .attr("stroke", "#25883a")
  .attr("stroke-width", 6);

function dots(data, color, rx, ry) {
  svg.append("g")
    .attr("filter", "url(#soft)")
    .selectAll("ellipse")
    .data(data)
    .enter()
    .append("ellipse")
    .attr("cx", d => xStrain(d[0]))
    .attr("cy", d => yFreq(d[1]))
    .attr("rx", rx)
    .attr("ry", ry)
    .attr("fill", color);
}

dots(redDots, "#ee5a68", 1.6, 4);
dots(purpleDots, "#a46fae", 1.7, 4.2);
dots(blueDots, "#3c479f", 2.1, 4.4);

// cluster size lines, read against the right axis
function countLine(values, color) {
  var line = d3.line()
    .x((d, i) => xStrain(binCentres[i]))
    .y(d => yCount(d));
  svg.append("path")
    .attr("d", line(values))
    .attr("fill", "none")
    .attr("stroke", color)
    .attr("stroke-opacity", 0.16)
    .attr("stroke-width", 11)
    .attr("filter", "url(#glow)");
  svg.append("path")
    .attr("d", line(values))
    .attr("fill", "none")
    .attr("stroke", color)
    .attr("stroke-width", 5.5)
    .attr("stroke-dasharray", "13 5")
    .attr("filter", "url(#soft)");
}

countLine(greenCounts, "#2e8540");
countLine(purpleCounts, "#a541b5");
countLine(redCounts, "#e8414f");
countLine(blueCounts, "#3a52c4");

svg.append("g").selectAll("path")
  .data(centroidStrain)
  .enter()
  .append("path")
  .attr("d", d3.symbol().type(d3.symbolStar).size(190))
  .attr("transform", (d, i) => "translate(" + xStrain(d) + "," + yFreq(centroidFreq[i]) + ")")
  .attr("fill", "#000");

svg.append("line")
  .attr("x1", xStrain(cutoffStrain)).attr("x2", xStrain(cutoffStrain))
  .attr("y1", 1705).attr("y2", yFreq(0))
  .attr("stroke", "#f4646a")
  .attr("stroke-width", 4);

svg.append("rect")
  .attr("x", 247).attr("y", 1704)
  .attr("width", 907).attr("height", 758)
  .attr("fill", "none")
  .attr("stroke", "#555")
  .attr("stroke-width", 2.5);

// axes: labels in this view are squeezed sideways in the picture
var squeeze = 0.77;

function styleTicks(g, anchor, dx) {
  g.select(".domain").remove();
  g.selectAll("line").attr("stroke", "#555").attr("stroke-width", 1.5);
  g.selectAll("text")
    .attr("font-family", serif)
    .attr("font-size", 26.6)
    .attr("text-anchor", anchor)
    .attr("x", 0)
    .attr("transform", "translate(" + dx + ",0) scale(" + squeeze + ",1)");
}

var freqAxis = d3.axisLeft(yFreq).tickValues(freqTicks).tickSize(5).tickFormat(d3.format(",.2f"));
var freqG = svg.append("g").attr("transform", "translate(247,0)").call(freqAxis);
styleTicks(freqG, "end", -6);

var countAxis = d3.axisRight(yCount).tickValues(countTicks).tickSize(5).tickFormat(d3.format(".2f"));
var countG = svg.append("g").attr("transform", "translate(1154,0)").call(countAxis);
styleTicks(countG, "start", 7);

var strainAxis = d3.axisBottom(xStrain).tickValues(strainTicks).tickSize(5).tickPadding(9).tickFormat(d3.format(".2f"));
var strainG = svg.append("g").attr("transform", "translate(0,2462)").call(strainAxis);
styleTicks(strainG, "middle", 0);

svg.append("text")
  .attr("transform", "translate(701,2526) scale(0.67,1)")
  .attr("text-anchor", "middle")
  .attr("font-size", 27)
  .text("Strain");
svg.append("text")
  .attr("transform", "translate(142,2084) rotate(-90) scale(1,0.77)")
  .attr("text-anchor", "middle")
  .attr("font-size", 27)
  .text("frequency");
svg.append("text")
  .attr("transform", "translate(1234,2084) rotate(-90) scale(1,0.77)")
  .attr("text-anchor", "middle")
  .attr("font-size", 25.4)
  .attr("font-weight", "bold")
  .text("Number of Points");

handle(86, 103, 2357, 2374);
svg.append("line")
  .attr("x1", 1030).attr("x2", 1065)
  .attr("y1", 2574).attr("y2", 2574)
  .attr("stroke", "#fff")
  .attr("stroke-width", 5)
  .attr("stroke-dasharray", "24 5");
panelLabel(685, 2581, "(d)", 2573);

// ---------------------------------------------------------
// ARROWS BETWEEN THE PANELS
// ---------------------------------------------------------

chevrons([
  [[1380, 553], [1420, 590], [1380, 629]],
  [[1420, 553], [1462, 590], [1420, 629]]
]);
chevrons([
  [[2054, 1279], [2094, 1320], [2134, 1279]],
  [[2054, 1318], [2094, 1360], [2134, 1318]]
]);
chevrons([
  [[1452, 1966], [1414, 2003], [1452, 2042]],
  [[1497, 1966], [1456, 2003], [1497, 2042]]
]);
</script>
</body>
</html>
